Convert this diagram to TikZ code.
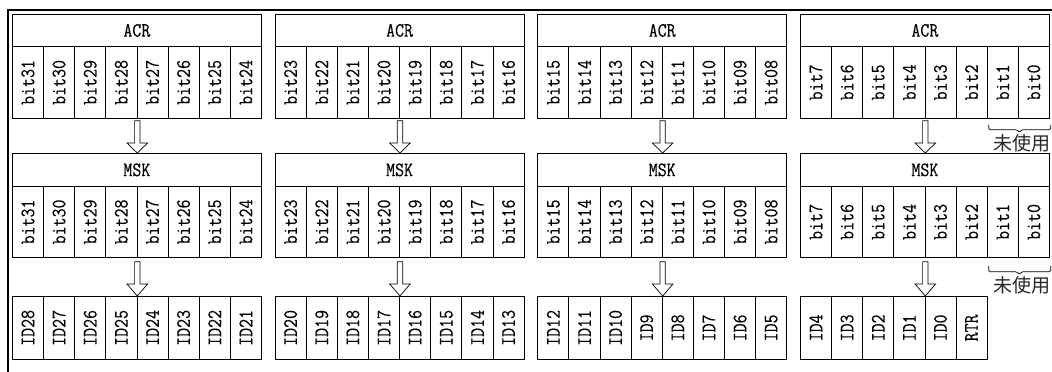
\documentclass[tikz,border=0pt]{standalone}
\usepackage{fontspec}
\newfontfamily\cjk{Noto Sans CJK SC}
\newfontfamily\cellfont[FakeBold=0.3]{Latin Modern Mono}
\usetikzlibrary{calc}
\newcommand\cnd[1]{\scalebox{0.85}[1]{#1}}
\begin{document}
\begin{tikzpicture}[x=1pt,y=-1pt,
  cell/.style={draw=black, line width=0.8pt, inner sep=0pt, anchor=north west,
    minimum width=31.125pt, font=\cellfont\fontsize{20.5}{20.5}\selectfont},
  bitA/.style={cell, minimum height=72pt},
  bitM/.style={cell, minimum height=71pt},
  idc/.style={cell, minimum height=63pt},
  head/.style={cell, minimum width=249pt},
  harrow/.style={draw=black, line width=0.7pt, fill=white, line join=miter},
  brace/.style={draw=black, line width=0.7pt, rounded corners=1.5pt},
  note/.style={font=\cjk\fontsize{19}{19}\selectfont, inner sep=0pt, text=black!85}
]
\useasboundingbox (0,0) rectangle (1052,372);
\fill[white] (0,0) rectangle (1052,372);
% frame
\draw[line width=2.5pt, line join=miter] (8,372) -- (8,10) -- (1052,10);

\foreach \k/\bl/\il in {
 0/{bit31,bit30,bit29,bit28,bit27,bit26,bit25,bit24}/{ID28,ID27,ID26,ID25,ID24,ID23,ID22,ID21},
 1/{bit23,bit22,bit21,bit20,bit19,bit18,bit17,bit16}/{ID20,ID19,ID18,ID17,ID16,ID15,ID14,ID13},
 2/{bit15,bit14,bit13,bit12,bit11,bit10,bit09,bit08}/{ID12,ID11,ID10,ID9,ID8,ID7,ID6,ID5},
 3/{bit7,bit6,bit5,bit4,bit3,bit2,bit1,bit0}/{ID4,ID3,ID2,ID1,ID0,RTR}}
{
 \pgfmathsetmacro\gx{12+262.67*\k}
 \node[head, minimum height=32pt] (acrH\k) at (\gx,14) {\cnd{ACR}};
 \foreach \b [count=\j from 0] in \bl {
   \node[bitA] (acrB\k-\j) at (\gx+31.125*\j,46) {\rotatebox{90}{\cnd{\b}}};
 }
 \node[head, minimum height=33pt] (mskH\k) at (\gx,153) {\cnd{MSK}};
 \foreach \b [count=\j from 0] in \bl {
   \node[bitM] (mskB\k-\j) at (\gx+31.125*\j,186) {\rotatebox{90}{\cnd{\b}}};
 }
 \foreach \b [count=\j from 0] in \il {
   \node[idc] (id\k-\j) at (\gx+31.125*\j,296) {\rotatebox{90}{\cnd{\b}}};
 }
 % hollow arrows
 \path[harrow] let \p1=(acrB\k-3.south east), \p2=(mskH\k.north) in
   (\x1-2.7pt,\y1-2pt) -- (\x1-2.7pt,\y2+10pt) -- (\x1-10.3pt,\y2+10pt) -- (\x1,\y2)
   -- (\x1+10.3pt,\y2+10pt) -- (\x1+2.7pt,\y2+10pt) -- (\x1+2.7pt,\y1-2pt) -- cycle;
 \path[harrow] let \p1=(mskB\k-3.south east), \p2=(id\k-3.north east) in
   (\x1-2.7pt,\y1-4pt) -- (\x1-2.7pt,\y2+12pt) -- (\x1-10.3pt,\y2+12pt) -- (\x1,\y2)
   -- (\x1+10.3pt,\y2+12pt) -- (\x1+2.7pt,\y2+12pt) -- (\x1+2.7pt,\y1-4pt) -- cycle;
}

% braces "unused"
\draw[brace] let \p1=(acrB3-6.south west), \p2=(acrB3-7.south east), \n1={0.5*(\x1+\x2)+1pt} in
  (\x1+2pt,\y1-6pt) -- (\x1+2pt,\y1-11pt) -- (\n1-2pt,\y1-11pt) -- (\n1,\y1-14pt)
  -- (\n1+2pt,\y1-11pt) -- (\x2+1pt,\y1-11pt) -- (\x2+1pt,\y1-6pt);
\coordinate (u1) at ($(acrB3-6.south east)+(3,25)$);
\node[note] (note1) at (u1) {未使用};

\draw[brace] let \p1=(mskB3-6.south west), \p2=(mskB3-7.south east), \n1={0.5*(\x1+\x2)+1pt} in
  (\x1+2pt,\y1-8pt) -- (\x1+2pt,\y1-14pt) -- (\n1-2pt,\y1-14pt) -- (\n1,\y1-17pt)
  -- (\n1+2pt,\y1-14pt) -- (\x2+1pt,\y1-14pt) -- (\x2+1pt,\y1-8pt);
\coordinate (u2) at ($(mskB3-6.south east)+(3,28)$);
\node[note] (note2) at (u2) {未使用};
\end{tikzpicture}
\end{document}
